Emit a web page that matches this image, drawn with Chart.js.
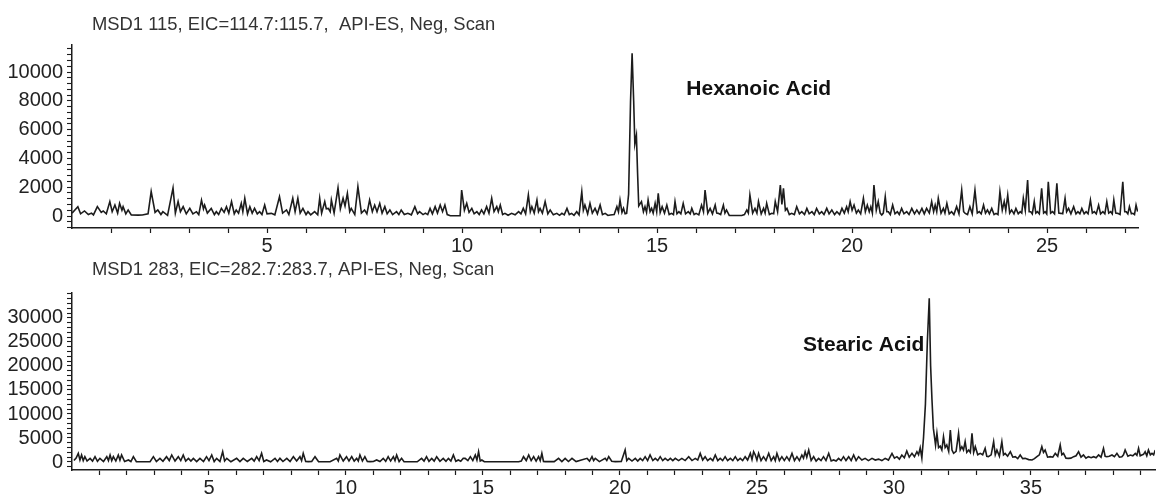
<!DOCTYPE html>
<html>
<head>
<meta charset="utf-8">
<title>EIC traces</title>
<script src="https://cdn.jsdelivr.net/npm/chart.js@4.4.1/dist/chart.umd.min.js"></script>
<style>
  html, body { margin: 0; padding: 0; background: #fff; }
  .panel { position: absolute; left: 0; width: 1156px; }
  #panelTop { top: 0; height: 270px; }
  #panelBottom { top: 250px; height: 251px; }
</style>
</head>
<body>
<div class="panel" id="panelTop"><canvas id="chartTop" width="1156" height="270"></canvas></div>
<div class="panel" id="panelBottom"><canvas id="chartBottom" width="1156" height="251"></canvas></div>
<script>
// titles / labels
var topTitle = 'MSD1 115, EIC=114.7:115.7,  API-ES, Neg, Scan';
var bottomTitle = 'MSD1 283, EIC=282.7:283.7, API-ES, Neg, Scan';
var topPeakName = 'Hexanoic Acid';
var bottomPeakName = 'Stearic Acid';

// tick labels
var topXLabels = [5, 10, 15, 20, 25];
var bottomXLabels = [5, 10, 15, 20, 25, 30, 35];
var topYLabels = [0, 2000, 4000, 6000, 8000, 10000];
var bottomYLabels = [0, 5000, 10000, 15000, 20000, 25000, 30000];

// axis ranges (min)
var topXRange = [0, 27.33];
var bottomXRange = [0, 39.53];
var topYRange = [-833, 11875];
var bottomYRange = [-1667, 35200];

// where the peak names sit, in data units [time, abundance]
var topPeakLabelAt = [15.75, 8820];
var bottomPeakLabelAt = [26.68, 24370];

// [time (min), abundance]
var hexanoicTrace = [
  [0.00,200],[0.15,650],[0.22,150],[0.32,350],[0.42,100],[0.50,200],[0.55,80],[0.65,650],[0.75,250],[0.80,350],
  [0.88,150],[0.97,1000],[1.03,300],[1.10,760],[1.17,200],[1.22,880],[1.28,400],[1.31,650],[1.38,150],[1.44,420],
  [1.52,80],[1.70,60],[1.80,70],[1.95,150],[2.03,1700],[2.13,250],[2.20,420],[2.28,100],[2.33,300],[2.45,50],
  [2.59,1950],[2.65,200],[2.72,1000],[2.78,300],[2.85,650],[2.93,150],[3.02,530],[3.10,150],[3.19,300],[3.25,100],
  [3.32,1100],[3.37,500],[3.40,760],[3.47,200],[3.57,530],[3.65,100],[3.70,300],[3.76,100],[3.83,530],[3.90,250],
  [3.96,650],[4.02,200],[4.09,1000],[4.16,150],[4.21,420],[4.27,200],[4.34,880],[4.38,300],[4.43,1230],[4.50,150],
  [4.56,650],[4.62,200],[4.68,530],[4.75,150],[4.81,300],[4.87,100],[4.94,760],[5.00,150],[5.11,185],[5.20,80],
  [5.32,1340],[5.40,200],[5.50,420],[5.56,100],[5.66,1230],[5.72,300],[5.79,1230],[5.85,200],[5.92,530],[6.00,100],
  [6.05,300],[6.12,80],[6.22,300],[6.30,80],[6.35,1230],[6.40,200],[6.48,1000],[6.52,500],[6.57,530],[6.62,300],
  [6.65,1110],[6.72,200],[6.82,1950],[6.88,500],[6.95,1230],[7.00,700],[7.06,1570],[7.12,300],[7.16,530],[7.25,100],
  [7.33,2040],[7.42,200],[7.50,420],[7.56,150],[7.63,1110],[7.70,300],[7.76,760],[7.82,300],[7.89,880],[7.95,200],
  [8.02,650],[8.08,150],[8.15,420],[8.22,100],[8.32,300],[8.38,100],[8.44,420],[8.52,100],[8.61,185],[8.70,80],
  [8.79,650],[8.86,150],[8.91,300],[9.00,100],[9.06,200],[9.12,100],[9.18,530],[9.24,150],[9.31,650],[9.37,200],
  [9.44,760],[9.50,300],[9.56,760],[9.62,100],[9.70,20],[9.95,20],[9.99,1800],[10.06,400],[10.12,880],[10.18,250],
  [10.25,530],[10.31,150],[10.38,300],[10.44,100],[10.50,420],[10.56,150],[10.63,650],[10.69,200],[10.76,1230],[10.82,300],
  [10.89,650],[10.93,300],[10.98,760],[11.04,100],[11.10,185],[11.18,50],[11.27,185],[11.36,80],[11.45,300],[11.51,150],
  [11.57,530],[11.63,150],[11.70,1460],[11.75,300],[11.79,650],[11.85,200],[11.92,1110],[11.96,300],[12.00,530],[12.06,200],
  [12.13,1000],[12.20,150],[12.26,420],[12.34,80],[12.43,185],[12.50,50],[12.56,185],[12.62,80],[12.69,530],[12.75,100],
  [12.81,185],[12.87,50],[12.94,300],[13.00,80],[13.07,1690],[13.11,400],[13.15,760],[13.22,150],[13.28,880],[13.34,200],
  [13.41,530],[13.47,150],[13.54,760],[13.60,100],[13.67,185],[13.74,40],[13.80,70],[13.90,100],[13.97,650],[14.01,300],
  [14.05,1110],[14.10,250],[14.14,530],[14.18,150],[14.22,185],[14.27,1500],[14.32,8000],[14.36,11300],[14.40,8000],[14.43,5000],
  [14.47,5600],[14.50,3000],[14.53,700],[14.60,1000],[14.65,300],[14.69,650],[14.73,250],[14.77,1110],[14.82,300],[14.86,530],
  [14.90,200],[14.95,880],[14.99,300],[15.03,1570],[15.08,250],[15.13,650],[15.19,200],[15.25,760],[15.31,100],[15.37,185],
  [15.42,100],[15.46,1000],[15.51,150],[15.56,300],[15.61,150],[15.67,880],[15.73,150],[15.80,300],[15.85,150],[15.89,530],
  [15.95,100],[16.00,185],[16.07,80],[16.14,760],[16.19,300],[16.23,1800],[16.30,200],[16.36,530],[16.42,150],[16.49,760],
  [16.53,200],[16.57,185],[16.63,100],[16.70,760],[16.74,200],[16.78,420],[16.85,40],[17.17,40],[17.24,100],[17.30,420],
  [17.34,200],[17.38,1460],[17.45,200],[17.51,530],[17.56,200],[17.60,1000],[17.67,150],[17.73,530],[17.77,200],[17.81,880],
  [17.88,100],[17.94,185],[17.99,150],[18.03,1000],[18.09,300],[18.16,2150],[18.20,800],[18.24,1920],[18.29,400],[18.33,530],
  [18.39,100],[18.45,185],[18.52,100],[18.58,650],[18.65,150],[18.71,300],[18.78,100],[18.84,530],[18.90,150],[18.97,300],
  [19.03,100],[19.09,530],[19.16,150],[19.22,300],[19.28,100],[19.35,530],[19.41,150],[19.48,420],[19.55,100],[19.61,300],
  [19.68,100],[19.74,530],[19.80,200],[19.86,650],[19.90,300],[19.95,1000],[20.00,400],[20.05,760],[20.11,200],[20.16,420],
  [20.22,150],[20.29,1230],[20.34,300],[20.39,760],[20.44,300],[20.48,650],[20.52,200],[20.56,2150],[20.62,400],[20.67,1000],
  [20.72,200],[20.76,70],[20.80,200],[20.85,1340],[20.89,300],[20.93,300],[20.98,100],[21.04,760],[21.10,150],[21.16,300],
  [21.21,100],[21.27,530],[21.33,150],[21.40,300],[21.46,100],[21.53,530],[21.60,150],[21.66,420],[21.72,150],[21.79,530],
  [21.85,150],[21.91,530],[21.98,200],[22.04,1000],[22.09,300],[22.13,760],[22.17,300],[22.21,1230],[22.28,200],[22.34,530],
  [22.38,200],[22.43,880],[22.49,150],[22.55,300],[22.61,100],[22.68,650],[22.74,150],[22.81,1800],[22.86,300],[22.90,185],
  [22.96,100],[23.02,650],[23.08,150],[23.15,1800],[23.21,200],[23.26,300],[23.31,150],[23.37,760],[23.42,200],[23.47,420],
  [23.52,150],[23.58,530],[23.64,100],[23.69,185],[23.74,100],[23.79,1690],[23.85,400],[23.90,1000],[23.94,400],[23.99,1460],
  [24.04,200],[24.09,420],[24.15,150],[24.20,530],[24.26,150],[24.31,300],[24.35,200],[24.39,1230],[24.44,400],[24.50,2500],
  [24.54,300],[24.58,300],[24.62,150],[24.67,1000],[24.71,200],[24.75,300],[24.80,150],[24.86,1920],[24.91,200],[24.95,300],
  [24.99,150],[25.03,2380],[25.09,200],[25.14,300],[25.19,150],[25.25,2270],[25.30,200],[25.35,185],[25.40,150],[25.46,1230],
  [25.50,300],[25.55,530],[25.61,150],[25.68,650],[25.74,150],[25.79,300],[25.84,150],[25.89,530],[25.95,150],[26.00,300],
  [26.05,150],[26.11,1110],[26.16,200],[26.21,300],[26.26,150],[26.32,760],[26.37,150],[26.43,300],[26.48,150],[26.53,1000],
  [26.58,200],[26.63,300],[26.67,150],[26.71,1110],[26.76,200],[26.81,185],[26.87,100],[26.94,2380],[26.99,300],[27.03,300],
  [27.07,150],[27.11,650],[27.16,150],[27.20,185],[27.24,100],[27.28,760],[27.32,300]
];

var stearicTrace = [
  [0.07,300],[0.15,800],[0.23,1800],[0.29,400],[0.35,1460],[0.41,300],[0.47,1110],[0.55,200],[0.66,760],[0.75,200],
  [0.84,1110],[0.93,150],[1.02,760],[1.15,100],[1.27,1110],[1.33,300],[1.39,1460],[1.45,300],[1.51,1110],[1.60,200],
  [1.69,1460],[1.75,400],[1.81,1460],[1.92,100],[2.06,420],[2.15,100],[2.24,1110],[2.35,50],[2.85,50],[2.97,1110],
  [3.08,100],[3.21,760],[3.32,150],[3.45,1110],[3.55,300],[3.64,1460],[3.76,200],[3.88,1110],[3.97,300],[4.06,1460],
  [4.15,200],[4.25,760],[4.34,200],[4.43,760],[4.55,100],[4.67,760],[4.80,100],[4.91,1110],[5.00,300],[5.10,1460],
  [5.19,100],[5.28,760],[5.40,100],[5.50,2150],[5.57,200],[5.65,760],[5.80,50],[6.01,760],[6.13,100],[6.25,760],
  [6.40,100],[6.56,760],[6.65,200],[6.74,1110],[6.83,300],[6.92,1800],[7.00,100],[7.10,420],[7.25,50],[7.41,760],
  [7.50,100],[7.59,760],[7.70,100],[7.84,760],[7.96,100],[8.08,1110],[8.20,200],[8.32,1110],[8.38,300],[8.44,1800],
  [8.53,100],[8.63,70],[8.75,100],[8.87,1110],[9.00,50],[9.42,50],[9.66,760],[9.72,200],[9.78,1460],[9.90,200],
  [10.02,1110],[10.11,200],[10.21,1110],[10.30,200],[10.39,760],[10.45,200],[10.51,1460],[10.60,200],[10.69,1110],[10.78,100],
  [10.88,70],[11.00,100],[11.12,420],[11.24,100],[11.36,760],[11.45,150],[11.54,1110],[11.63,200],[11.73,1110],[11.79,300],
  [11.85,1460],[11.94,100],[12.03,760],[12.12,50],[12.60,50],[12.76,760],[12.85,200],[12.94,1110],[13.03,150],[13.13,760],
  [13.22,200],[13.31,1110],[13.43,150],[13.55,760],[13.65,150],[13.74,760],[13.83,200],[13.92,1460],[14.01,150],[14.10,420],
  [14.19,150],[14.28,760],[14.35,760],[14.45,300],[14.54,1110],[14.63,300],[14.72,1460],[14.78,400],[14.84,2150],[14.90,200],
  [14.96,420],[15.05,50],[16.30,50],[16.40,200],[16.48,1110],[16.58,300],[16.67,1460],[16.76,300],[16.85,1110],[16.94,200],
  [17.03,1110],[17.09,300],[17.15,1800],[17.21,100],[17.27,70],[17.60,80],[17.76,760],[17.88,100],[18.00,760],[18.12,100],
  [18.25,760],[18.40,80],[18.80,760],[18.89,200],[18.98,1110],[19.04,300],[19.10,760],[19.25,80],[19.46,760],[19.52,300],
  [19.59,1110],[19.70,150],[19.83,70],[20.05,100],[20.19,2500],[20.25,300],[20.32,760],[20.44,200],[20.56,760],[20.65,200],
  [20.74,760],[20.83,300],[20.92,1110],[21.01,300],[21.10,1460],[21.20,300],[21.29,760],[21.38,300],[21.47,1110],[21.56,300],
  [21.65,760],[21.75,300],[21.84,760],[21.93,300],[22.02,760],[22.14,300],[22.26,760],[22.38,300],[22.51,1110],[22.63,300],
  [22.75,760],[22.84,400],[22.93,1800],[23.02,400],[23.11,1110],[23.20,300],[23.30,760],[23.39,300],[23.48,1460],[23.57,300],
  [23.66,760],[23.75,300],[23.84,1110],[23.93,300],[24.03,760],[24.12,300],[24.21,1110],[24.30,300],[24.39,760],[24.48,300],
  [24.57,1110],[24.66,400],[24.76,1800],[24.82,500],[24.88,2150],[24.94,1460],[25.00,400],[25.06,1800],[25.15,300],[25.24,1110],
  [25.33,300],[25.43,1800],[25.52,300],[25.61,1110],[25.67,300],[25.73,1800],[25.82,300],[25.91,1110],[26.00,300],[26.09,1110],
  [26.18,300],[26.28,1800],[26.37,300],[26.46,1110],[26.55,300],[26.64,1460],[26.70,800],[26.76,2150],[26.82,1000],[26.89,2500],
  [26.98,300],[27.07,1110],[27.16,200],[27.25,760],[27.34,300],[27.43,1110],[27.52,300],[27.62,1800],[27.71,200],[27.80,420],
  [27.89,200],[27.98,760],[28.07,300],[28.16,1110],[28.25,300],[28.35,1110],[28.44,300],[28.53,1460],[28.62,300],[28.71,1110],
  [28.83,400],[28.95,760],[29.07,300],[29.20,760],[29.32,400],[29.44,600],[29.56,300],[29.68,760],[29.80,400],[29.93,1800],
  [30.02,800],[30.11,1110],[30.20,600],[30.29,1460],[30.38,900],[30.47,2300],[30.56,1000],[30.66,1800],[30.75,1100],[30.84,2150],
  [30.90,1500],[30.96,2960],[31.02,800],[31.08,5000],[31.15,12000],[31.22,25000],[31.29,34100],[31.34,20000],[31.39,12900],[31.44,7000],
  [31.48,5280],[31.52,3500],[31.57,5970],[31.63,3000],[31.69,3300],[31.75,2500],[31.81,5280],[31.87,3000],[31.93,3540],[32.00,2200],
  [32.06,6670],[32.12,2500],[32.18,1800],[32.27,2200],[32.36,5970],[32.42,2500],[32.48,3190],[32.54,2500],[32.60,4240],[32.66,2000],
  [32.73,2500],[32.79,2000],[32.85,5970],[32.91,2000],[32.97,3190],[33.06,1500],[33.15,1800],[33.24,1500],[33.33,2850],[33.39,1200],
  [33.45,1110],[33.55,1500],[33.64,4240],[33.70,1500],[33.76,2500],[33.85,1200],[33.94,4240],[34.00,1500],[34.06,1800],[34.15,1200],
  [34.25,2150],[34.34,1000],[34.43,1110],[34.52,700],[34.61,1460],[34.70,700],[34.79,760],[34.92,500],[35.04,420],[35.13,700],
  [35.22,1110],[35.31,1500],[35.40,3190],[35.46,2000],[35.52,2500],[35.61,1000],[35.71,1110],[35.80,1000],[35.89,1800],[35.98,1200],
  [36.07,3540],[36.13,1500],[36.19,1800],[36.28,800],[36.37,760],[36.46,800],[36.56,1110],[36.65,1300],[36.74,2150],[36.83,1000],
  [36.92,1460],[37.01,800],[37.10,1110],[37.20,900],[37.29,1110],[37.38,900],[37.47,1460],[37.56,1000],[37.65,2850],[37.71,1200],
  [37.77,1110],[37.86,1200],[37.96,1460],[38.05,1100],[38.14,1800],[38.23,1000],[38.32,1110],[38.38,1500],[38.44,2500],[38.54,1200],
  [38.63,1460],[38.72,1300],[38.81,1800],[38.87,1400],[38.93,2850],[38.99,1300],[39.05,1460],[39.11,1600],[39.17,2150],[39.23,1300],
  [39.29,2500],[39.36,1500],[39.42,1800],[39.48,1500],[39.54,2500]
];

var INK = '#1c1c1c';
var FONT = "'Liberation Sans', Arial, sans-serif";

// draws the panel title and the compound name
var panelText = {
  id: 'panelText',
  afterDraw: function(chart, args, o) {
    var ctx = chart.ctx;
    var area = chart.chartArea;
    ctx.save();
    ctx.textBaseline = 'middle';
    ctx.textAlign = 'left';
    ctx.fillStyle = '#333';
    ctx.font = '18.4px ' + FONT;
    ctx.fillText(o.title, area.left + 20, area.top - o.titleGap);
    ctx.fillStyle = '#111';
    ctx.font = 'bold 21px ' + FONT;
    var px = chart.scales.x.getPixelForValue(o.peakAt[0]);
    var py = chart.scales.y.getPixelForValue(o.peakAt[1]);
    ctx.fillText(o.peakName, px, py);
    ctx.restore();
  }
};

function stepTicks(lo, hi, step) {
  var out = [];
  for (var v = Math.ceil(lo / step) * step; v <= hi; v += step) out.push({ value: v });
  return out;
}

function makePanel(id, trace, cfg) {
  var ctx = document.getElementById(id).getContext('2d');
  return new Chart(ctx, {
    type: 'line',
    data: {
      datasets: [{
        data: trace.map(function(p) { return { x: p[0], y: p[1] }; }),
        borderColor: INK,
        borderWidth: 1.6,
        pointRadius: 0,
        tension: 0,
        fill: false
      }]
    },
    options: {
      responsive: false,
      animation: false,
      devicePixelRatio: 1,
      layout: { padding: { top: cfg.padTop, right: cfg.padRight, left: 0, bottom: 0 } },
      plugins: {
        legend: { display: false },
        tooltip: { enabled: false },
        panelText: { title: cfg.title, titleGap: cfg.titleGap, peakName: cfg.peakName, peakAt: cfg.peakAt }
      },
      scales: {
        x: {
          type: 'linear',
          min: cfg.xRange[0],
          max: cfg.xRange[1],
          afterBuildTicks: function(s) { s.ticks = stepTicks(s.min + 0.5, s.max, 1); },
          afterFit: function(s) { s.height = cfg.xAxisHeight; },
          border: { display: true, color: INK, width: 1.5 },
          grid: { drawOnChartArea: false, drawTicks: true, tickLength: 5, color: INK, tickWidth: 1.2 },
          ticks: {
            autoSkip: false, maxRotation: 0, padding: 1, color: '#222',
            font: { family: FONT, size: 20 },
            callback: function(v) { return cfg.xLabels.indexOf(v) >= 0 ? String(v) : ''; }
          }
        },
        y: {
          min: cfg.yRange[0],
          max: cfg.yRange[1],
          afterBuildTicks: function(s) { s.ticks = stepTicks(s.min, s.max, cfg.yMinor); },
          afterFit: function(s) { s.width = 72; },
          border: { display: true, color: INK, width: 1.5 },
          grid: { drawOnChartArea: false, drawTicks: true, tickLength: 5, color: INK, tickWidth: 1.1 },
          ticks: {
            autoSkip: false, padding: 4, color: '#222',
            font: { family: FONT, size: 20 },
            callback: function(v) { return cfg.yLabels.indexOf(v) >= 0 ? String(v) : ''; }
          }
        }
      }
    },
    plugins: [panelText]
  });
}

// top canvas is taller than its panel so the x labels are not clipped;
// the bottom canvas is transparent and sits over it
makePanel('chartTop', hexanoicTrace, {
  title: topTitle, titleGap: 20, peakName: topPeakName, peakAt: topPeakLabelAt,
  xRange: topXRange, yRange: topYRange, xLabels: topXLabels, yLabels: topYLabels, yMinor: 400,
  padTop: 45, padRight: 18, xAxisHeight: 42
});

makePanel('chartBottom', stearicTrace, {
  title: bottomTitle, titleGap: 23, peakName: bottomPeakName, peakAt: bottomPeakLabelAt,
  xRange: bottomXRange, yRange: bottomYRange, xLabels: bottomXLabels, yLabels: bottomYLabels, yMinor: 1000,
  padTop: 43, padRight: 1, xAxisHeight: 31
});
</script>
</body>
</html>
